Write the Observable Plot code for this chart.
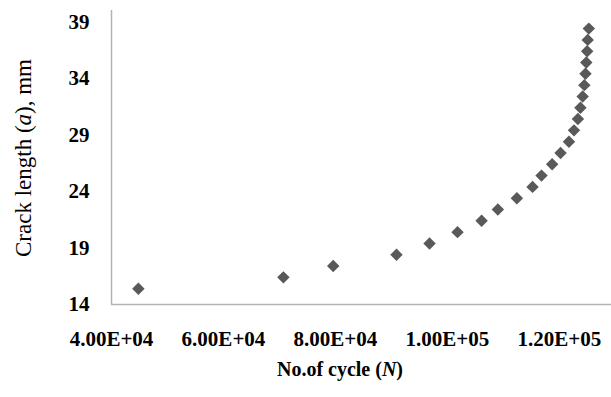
<!DOCTYPE html>
<html>
<head>
<meta charset="utf-8">
<script src="https://cdn.jsdelivr.net/npm/d3@7"></script>
<script src="https://cdn.jsdelivr.net/npm/@observablehq/plot@0.6"></script>
<style>
  html, body { margin: 0; padding: 0; background: #fff; }
</style>
</head>
<body>
<div id="chart"></div>
<script>
// Number of cycles (N)
const cycles = [44800, 70700, 79600, 90900, 96800, 101800, 106100, 109000, 112400, 115200,
  116800, 118700, 120200, 121700, 122600, 123300, 123750, 124150, 124450, 124650,
  124800, 124950, 125050, 125250];
// Crack length (a), mm
const crackLength = [15.4, 16.4, 17.4, 18.4, 19.4, 20.4, 21.4, 22.4, 23.4, 24.4,
  25.4, 26.4, 27.4, 28.4, 29.4, 30.4, 31.4, 32.4, 33.4, 34.4,
  35.4, 36.4, 37.4, 38.4];
const xTicks = [40000, 60000, 80000, 100000, 120000];
const yTicks = [14, 19, 24, 29, 34, 39];

const data = cycles.map((n, i) => ({n, a: crackLength[i]}));

const fmtE = d => {
  const e = Math.floor(Math.log10(d));
  const m = d / Math.pow(10, e);
  return m.toFixed(2) + "E+" + String(e).padStart(2, "0");
};

const chart = Plot.plot({
  width: 611,
  height: 397,
  marginLeft: 111,
  marginRight: 0,
  marginTop: 10,
  marginBottom: 93,
  x: {domain: [40000, 129300]},
  y: {domain: [14, 40]},
  style: {fontFamily: "'Liberation Serif', 'Times New Roman', serif", fontSize: "21px", fontWeight: "bold", color: "#000", background: "#fff"},
  marks: [
    Plot.axisX({ticks: xTicks, tickFormat: fmtE, tickSize: 0, tickPadding: 27, label: null}),
    Plot.axisY({ticks: yTicks, tickSize: 0, tickPadding: 22, label: null}),
    Plot.ruleX([40000], {stroke: "#b3b3b3", strokeWidth: 1.5}),
    Plot.ruleY([14], {stroke: "#b3b3b3", strokeWidth: 1.5}),
    Plot.dot(data, {x: "n", y: "a", symbol: "diamond2", r: 5.6, fill: "#595959", stroke: "none"})
  ]
});

const svg = d3.select(chart);
const xt = svg.append("text")
  .attr("x", 340).attr("y", 376)
  .attr("text-anchor", "middle")
  .style("font-size", "20px").style("font-weight", "bold");
xt.append("tspan").text("No.of cycle (");
xt.append("tspan").style("font-style", "italic").text("N");
xt.append("tspan").text(")");

const yt = svg.append("text")
  .attr("transform", "translate(31,158) rotate(-90)")
  .attr("text-anchor", "middle")
  .style("font-size", "23px").style("font-weight", "normal");
yt.append("tspan").text("Crack length (");
yt.append("tspan").style("font-style", "italic").text("a");
yt.append("tspan").text("), mm");

document.getElementById("chart").appendChild(chart);
</script>
</body>
</html>
